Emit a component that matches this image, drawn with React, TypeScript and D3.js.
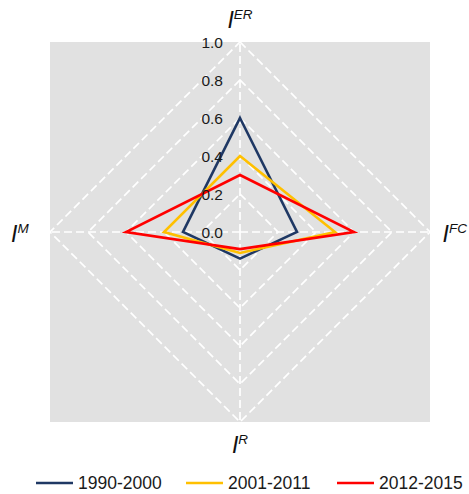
import React from "react";
import * as d3 from "d3";

const axes = ["ER", "FC", "R", "M"];
const ticks = [0, 0.2, 0.4, 0.6, 0.8, 1.0];
const seriesNames = ["1990-2000", "2001-2011", "2012-2015"];
const seriesColors = ["#1f3864", "#ffc000", "#ff0000"];
const s1990 = [0.6, 0.3, 0.14, 0.3];
const s2001 = [0.4, 0.5, 0.11, 0.4];
const s2012 = [0.3, 0.6, 0.09, 0.6];
const seriesValues = [s1990, s2001, s2012];

const App = () => {
  const ref = React.useRef<SVGSVGElement>(null);

  React.useEffect(() => {
    const svg = d3.select(ref.current);
    svg.selectAll("*").remove();

    const cx = 240,
      cy = 232,
      R = 190;
    const r = d3.scaleLinear().domain([0, 1]).range([0, R]);
    const angle = d3
      .scalePoint<string>()
      .domain(axes)
      .range([0, (Math.PI * 2 * 3) / 4]);

    const g = svg.append("g").attr("transform", `translate(${cx},${cy})`);

    // grey plot area
    g.append("rect")
      .attr("x", -R)
      .attr("y", -R)
      .attr("width", 2 * R)
      .attr("height", 2 * R)
      .attr("fill", "#e1e1e1");

    const radial = d3
      .lineRadial<number>()
      .angle((d, i) => angle(axes[i])!)
      .radius((d) => r(d))
      .curve(d3.curveLinearClosed);

    // grid diamonds
    g.selectAll("path.grid")
      .data(ticks.filter((t) => t > 0))
      .join("path")
      .attr("class", "grid")
      .attr("d", (t) => radial(axes.map(() => t)))
      .attr("fill", "none")
      .attr("stroke", "#fff")
      .attr("stroke-width", 1.7)
      .attr("stroke-dasharray", "8,4");

    // spokes
    axes.forEach((a) => {
      const ang = angle(a)! - Math.PI / 2;
      g.append("line")
        .attr("x1", 0)
        .attr("y1", 0)
        .attr("x2", Math.cos(ang) * R)
        .attr("y2", Math.sin(ang) * R)
        .attr("stroke", "#fff")
        .attr("stroke-width", 1.7)
        .attr("stroke-dasharray", "8,4");
    });

    // series
    seriesValues.forEach((vals, i) => {
      g.append("path")
        .attr("d", radial(vals))
        .attr("fill", "none")
        .attr("stroke", seriesColors[i])
        .attr("stroke-width", 2.6)
        .attr("stroke-linejoin", "miter");
    });

    // tick labels
    g.selectAll("text.tick")
      .data(ticks)
      .join("text")
      .attr("class", "tick")
      .attr("x", -17)
      .attr("y", (t) => -r(t))
      .attr("dy", "0.36em")
      .attr("text-anchor", "end")
      .attr("font-family", "Liberation Sans, Arial, sans-serif")
      .attr("font-size", 15.5)
      .attr("fill", "#1a1a1a")
      .text((t) => d3.format(".1f")(t));

    // axis labels
    const labelPos: Record<string, [number, number, string]> = {
      ER: [240, 28, "middle"],
      FC: [467, 242, "end"],
      R: [240, 453, "middle"],
      M: [11, 242, "start"],
    };
    axes.forEach((a) => {
      const [x, y, anchor] = labelPos[a];
      const t = svg
        .append("text")
        .attr("x", x)
        .attr("y", y)
        .attr("text-anchor", anchor)
        .attr("font-family", "Liberation Sans, Arial, sans-serif")
        .attr("font-style", "italic")
        .attr("font-size", 23)
        .attr("fill", "#111");
      t.append("tspan").text("I");
      t.append("tspan")
        .attr("dy", -9)
        .attr("font-size", 13.5)
        .text(a);
    });

    // legend
    const legendX = [36, 186, 337];
    seriesNames.forEach((name, i) => {
      const lg = svg.append("g").attr("transform", `translate(${legendX[i]},483)`);
      lg.append("line")
        .attr("x1", 0)
        .attr("x2", 37)
        .attr("stroke", seriesColors[i])
        .attr("stroke-width", 2.6);
      lg.append("text")
        .attr("x", 42)
        .attr("dy", "0.36em")
        .attr("font-family", "Liberation Sans, Arial, sans-serif")
        .attr("font-size", 17.5)
        .attr("fill", "#1a1a1a")
        .text(name);
    });
  }, []);

  return (
    <svg
      ref={ref}
      width={469}
      height={494}
      style={{ position: "absolute", left: 0, top: 0, background: "#fff" }}
    />
  );
};

export default App;
